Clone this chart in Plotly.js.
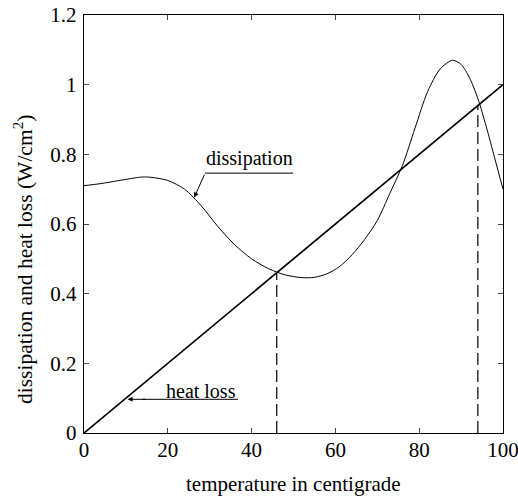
<!DOCTYPE html>
<html>
<head>
<meta charset="utf-8">
<script src="https://cdn.plot.ly/plotly-3.0.1.min.js"></script>
<style>html,body{margin:0;padding:0;background:#fff;}#chart{width:518px;height:500px;}</style>
</head>
<body>
<div id="chart"></div>
<script>
const temps = [0,4,8,12,14,16,20,24,28,32,36,40,44,48,52,55,58,61,64,67,70,73,76,79,82,85,88,90,92,94,96,98,100];
const dissipation = [0.710,0.716,0.724,0.732,0.735,0.734,0.725,0.700,0.652,0.592,0.540,0.500,0.472,0.454,0.446,0.447,0.457,0.478,0.512,0.556,0.610,0.688,0.768,0.875,0.980,1.045,1.070,1.058,1.020,0.960,0.880,0.790,0.700];
const heatX = [0,100];
const heatLoss = [0,1];
const crossX = [46,94];
const crossY = [0.46,0.94];
const xTicks = [0,20,40,60,80,100];
const yTicks = [0,0.2,0.4,0.6,0.8,1,1.2];
const xTitle = 'temperature in centigrade';
const yTitle = 'dissipation and heat loss (W/cm<sup>2</sup>)';

const font = {family:'Liberation Serif, serif', color:'#000'};
const f = s => Object.assign({size:s}, font);

const traces = [
  {x:temps, y:dissipation, mode:'lines', line:{color:'#000', width:1, shape:'spline', smoothing:0.8}, hoverinfo:'skip'},
  {x:heatX, y:heatLoss, mode:'lines', line:{color:'#000', width:1.7}, hoverinfo:'skip'}
];
crossX.forEach((cx,i)=>{
  traces.push({x:[cx,cx], y:[0,crossY[i]], mode:'lines', line:{color:'#000', width:1.2, dash:'12px,5px'}, hoverinfo:'skip'});
});

const layout = {
  width:518, height:500,
  margin:{l:84, r:15, t:15, b:67},
  showlegend:false,
  paper_bgcolor:'#fff', plot_bgcolor:'#fff',
  font:f(20),
  xaxis:{range:[0,100], tickvals:xTicks, ticks:'inside', ticklen:5, mirror:'ticks', showline:true, linecolor:'#000', linewidth:1.3, showgrid:false, zeroline:false,
    tickfont:f(21), ticklabelstandoff:-3, ticklabeloverflow:'allow'},
  yaxis:{range:[0,1.2], tickvals:yTicks, ticks:'inside', ticklen:5, mirror:'ticks', showline:true, linecolor:'#000', linewidth:1.3, showgrid:false, zeroline:false,
    tickfont:f(21), ticklabelstandoff:2, ticklabeloverflow:'allow'},
  shapes:[
    {type:'line', xref:'x', yref:'y', x0:28.9, x1:49.9, y0:0.746, y1:0.746, line:{color:'#000', width:1}},
    {type:'line', xref:'x', yref:'y', x0:14, x1:36.75, y0:0.0967, y1:0.0967, line:{color:'#000', width:1}}
  ],
  annotations:[
    {x:0.5, y:-0.122, xref:'paper', yref:'paper', text:xTitle, showarrow:false, xanchor:'center', yanchor:'middle', font:f(21)},
    {x:-0.143, y:0.414, xref:'paper', yref:'paper', text:yTitle, showarrow:false, textangle:-90, xanchor:'center', yanchor:'middle', font:f(21.5)},
    {x:39.6, y:0.788, xref:'x', yref:'y', text:'dissipation', showarrow:false, yanchor:'middle', font:f(20)},
    {x:26.3, y:0.676, xref:'x', yref:'y', ax:28.9, ay:0.746, axref:'x', ayref:'y', text:'', showarrow:true, arrowhead:2, arrowsize:1, arrowwidth:1, arrowcolor:'#000'},
    {x:27.9, y:0.122, xref:'x', yref:'y', text:'heat loss', showarrow:false, yanchor:'middle', font:f(20)},
    {x:10.4, y:0.0967, xref:'x', yref:'y', ax:15, ay:0.0967, axref:'x', ayref:'y', text:'', showarrow:true, arrowhead:2, arrowsize:1, arrowwidth:1, arrowcolor:'#000'}
  ]
};
Plotly.newPlot('chart', traces, layout, {displayModeBar:false, staticPlot:true});
</script>
</body>
</html>
